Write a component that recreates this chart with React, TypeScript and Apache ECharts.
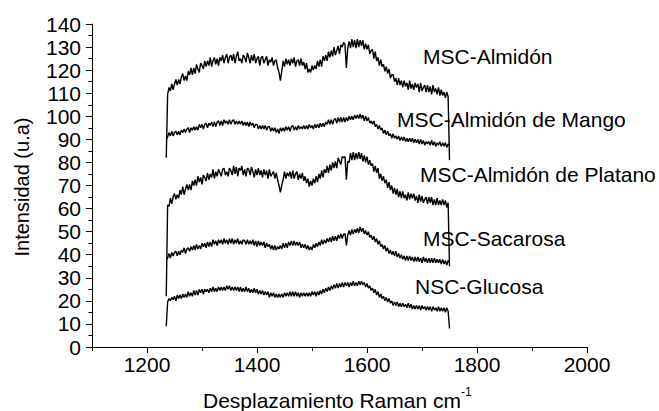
import React, { useEffect, useRef } from "react";
import * as echarts from "echarts";

// Raman shift sample positions (cm-1), one row = 25 cm-1
const ramanShift = [
  1235, 1237.5, 1240, 1242.5, 1245, 1247.5, 1250, 1252.5, 1255, 1257.5,
  1260, 1262.5, 1265, 1267.5, 1270, 1272.5, 1275, 1277.5, 1280, 1282.5,
  1285, 1287.5, 1290, 1292.5, 1295, 1297.5, 1300, 1302.5, 1305, 1307.5,
  1310, 1312.5, 1315, 1317.5, 1320, 1322.5, 1325, 1327.5, 1330, 1332.5,
  1335, 1337.5, 1340, 1342.5, 1345, 1347.5, 1350, 1352.5, 1355, 1357.5,
  1360, 1362.5, 1365, 1367.5, 1370, 1372.5, 1375, 1377.5, 1380, 1382.5,
  1385, 1387.5, 1390, 1392.5, 1395, 1397.5, 1400, 1402.5, 1405, 1407.5,
  1410, 1412.5, 1415, 1417.5, 1420, 1422.5, 1425, 1427.5, 1430, 1432.5,
  1435, 1437.5, 1440, 1442.5, 1445, 1447.5, 1450, 1452.5, 1455, 1457.5,
  1460, 1462.5, 1465, 1467.5, 1470, 1472.5, 1475, 1477.5, 1480, 1482.5,
  1485, 1487.5, 1490, 1492.5, 1495, 1497.5, 1500, 1502.5, 1505, 1507.5,
  1510, 1512.5, 1515, 1517.5, 1520, 1522.5, 1525, 1527.5, 1530, 1532.5,
  1535, 1537.5, 1540, 1542.5, 1545, 1547.5, 1550, 1552.5, 1555, 1557.5,
  1560, 1562.5, 1565, 1567.5, 1570, 1572.5, 1575, 1577.5, 1580, 1582.5,
  1585, 1587.5, 1590, 1592.5, 1595, 1597.5, 1600, 1602.5, 1605, 1607.5,
  1610, 1612.5, 1615, 1617.5, 1620, 1622.5, 1625, 1627.5, 1630, 1632.5,
  1635, 1637.5, 1640, 1642.5, 1645, 1647.5, 1650, 1652.5, 1655, 1657.5,
  1660, 1662.5, 1665, 1667.5, 1670, 1672.5, 1675, 1677.5, 1680, 1682.5,
  1685, 1687.5, 1690, 1692.5, 1695, 1697.5, 1700, 1702.5, 1705, 1707.5,
  1710, 1712.5, 1715, 1717.5, 1720, 1722.5, 1725, 1727.5, 1730, 1732.5,
  1735, 1737.5, 1740, 1742.5, 1745, 1747.5, 1750,
];

const almidon = [
  82, 109.5, 112.5, 111, 114, 111.5, 114, 116, 113.5, 116,
  114, 117, 118.5, 115.5, 117.5, 115.5, 119.5, 118, 121, 118,
  121, 118.5, 122.5, 120.5, 119, 123, 122, 120.5, 124, 121.5,
  124, 122, 125.5, 121.5, 124, 125.5, 122.5, 125, 122, 125.5,
  124, 126.5, 123, 125.5, 127, 123, 125.5, 126.5, 124, 127,
  123, 126, 128, 124, 125, 123, 126.5, 125.5, 123.5, 127.5,
  125.5, 123, 126.5, 124, 127, 123, 125, 126, 122, 125.5,
  126, 123, 124.5, 126, 122, 124.5, 123.5, 125.5, 122, 124,
  124.5, 121, 119, 115.5, 119.5, 124, 121.5, 125, 122.5, 124.5,
  122, 125, 123, 125.5, 121.5, 124, 124.5, 122, 125, 122,
  123.5, 120.5, 123, 119, 120.5, 119, 122, 120, 122, 120.5,
  124, 121.5, 124.5, 121.5, 126, 124, 126.5, 124, 128, 125.5,
  128.5, 126, 130, 126.5, 128.5, 130.5, 127, 131, 130, 132,
  131, 121, 129.5, 132.5, 129.5, 133.5, 130, 133, 129.5, 133.5,
  130, 133, 130.5, 133, 129, 131.5, 129, 131, 127, 128.5,
  129, 125, 128, 124, 125.5, 122, 124.5, 121.5, 122.5, 119.5,
  121.5, 118.5, 120.5, 116.5, 118, 118, 115, 116.5, 113.5, 116.5,
  113.5, 115.5, 112.5, 115.5, 113, 114.5, 111.5, 115.5, 112, 114,
  111.5, 114.5, 112.5, 114, 110.5, 114.5, 111, 112.5, 113.5, 110.5,
  113.5, 110.5, 113, 109.5, 113.5, 110.5, 112, 109.5, 112.5, 109,
  111.5, 109, 110.5, 108, 110.5, 108.5, 81,
];

const mango = [
  90, 91, 93, 91.5, 93.5, 91.5, 93, 93.5, 92, 93.5,
  92, 94, 93, 94.5, 93, 94.5, 95, 93, 95, 94,
  95.5, 94, 95.5, 94, 96.5, 95, 96.5, 94.5, 96.5, 97,
  95, 97, 96, 97.5, 95.5, 97.5, 95.5, 97.5, 98, 96,
  98, 96, 98.5, 97, 98, 96.5, 98.5, 96.5, 98, 98.5,
  96.5, 98, 96.5, 98, 96.5, 98, 96, 97.5, 96, 97.5,
  95.5, 97.5, 96, 97, 95, 96.5, 96.5, 94.5, 96, 94.5,
  96, 94.5, 96, 94, 95.5, 95.5, 93.5, 95, 93.5, 95,
  93, 94.5, 92.5, 95, 93.5, 95, 93.5, 95.5, 94, 95.5,
  93.5, 95.5, 96, 94, 95.5, 94, 96, 94.5, 95.5, 94.5,
  96, 94.5, 96, 94.5, 96.5, 95, 96, 94.5, 96.5, 95,
  96.5, 95, 97, 95.5, 97, 95.5, 97.5, 96.5, 98.5, 96.5,
  98.5, 96.5, 98.5, 99, 97, 99.5, 97.5, 99.5, 97.5, 99.5,
  97.5, 99.5, 98, 100, 98.5, 100, 98.5, 100.5, 99, 100.5,
  99, 101, 99, 100.5, 98, 100, 98, 99.5, 97, 98,
  96.5, 98, 95.5, 96.5, 94.5, 96, 94, 95, 92.5, 94,
  92, 93.5, 91.5, 92.5, 90.5, 92.5, 90.5, 91.5, 90, 91.5,
  89.5, 91, 89.5, 91, 89, 90.5, 89, 90.5, 89, 90.5,
  88.5, 90, 88.5, 90, 88, 90, 88, 89.5, 87.5, 89,
  88, 89, 87.5, 89.5, 87.5, 89, 87, 88.5, 87.5, 89,
  87, 88.5, 87, 88.5, 86.5, 88, 87.5,
];

const platano = [
  22, 61.5, 61, 64.5, 62, 65, 66.5, 64, 66, 64.5,
  68, 66, 69.5, 66, 68.5, 70.5, 68, 70.5, 68, 72,
  70, 72.5, 70, 74, 71.5, 73.5, 70.5, 74.5, 73.5, 72,
  75.5, 72.5, 75, 73.5, 77, 73, 76, 74, 77, 75.5,
  74, 77, 77.5, 74.5, 76, 74, 77.5, 76.5, 74.5, 78.5,
  75, 78, 74, 77.5, 76.5, 78.5, 74.5, 77, 74, 77.5,
  77, 74.5, 78, 76, 73.5, 77, 74.5, 77.5, 74.5, 76.5,
  73.5, 77, 74.5, 76.5, 73, 77, 74, 75, 76, 73,
  75.5, 72.5, 70, 67, 70, 72.5, 76, 73, 75.5, 74,
  76, 73, 76.5, 73, 75, 76, 72.5, 75, 73, 75.5,
  72, 74, 71, 73, 69.5, 72, 70, 73, 71, 74,
  71.5, 75, 73, 76.5, 73.5, 77, 75.5, 78.5, 75.5, 79,
  76.5, 80, 77.5, 80.5, 77.5, 82, 80.5, 79, 82.5, 82,
  82.5, 72.5, 80.5, 80, 84, 81, 84.5, 81, 84, 81.5,
  84.5, 81.5, 84, 80.5, 83, 80, 82.5, 79, 81, 78.5,
  79.5, 76, 78.5, 75.5, 77.5, 73, 75, 72, 74, 71,
  72.5, 69, 71.5, 68, 70, 66.5, 69, 66, 68.5, 65,
  67.5, 64.5, 67.5, 64.5, 66, 63.5, 67, 64, 66.5, 64.5,
  66.5, 63.5, 65.5, 62.5, 66, 63, 65.5, 62.5, 64, 65,
  62, 65, 62.5, 65, 61.5, 64, 61.5, 64.5, 61.5, 63.5,
  61.5, 64, 61.5, 63.5, 60.5, 62.5, 35,
];

const sacarosa = [
  38, 38.5, 40.5, 38.5, 41, 39.5, 41, 41.5, 39.5, 41.5,
  40, 42, 41, 43, 40.5, 42.5, 43, 41.5, 43.5, 42,
  44, 42, 44.5, 42.5, 44, 42.5, 45, 43.5, 45, 43,
  45.5, 43.5, 45.5, 43.5, 46.5, 44.5, 46, 44, 46.5, 45,
  46.5, 44.5, 47, 45, 46.5, 44.5, 47, 45, 47, 44.5,
  46.5, 45, 47, 44.5, 46, 44.5, 46.5, 46, 44.5, 46.5,
  44.5, 46, 44.5, 46.5, 44, 46, 43.5, 46, 44, 45.5,
  44, 45.5, 43, 45, 43.5, 44.5, 42.5, 44, 42, 44,
  42, 43.5, 42.5, 44, 42.5, 45, 43, 45, 43, 45.5,
  44, 46, 44, 46, 44, 45.5, 44, 45.5, 43, 44.5,
  43, 44.5, 42.5, 44, 42, 43.5, 42, 44.5, 43, 45,
  43.5, 45.5, 44, 46.5, 44.5, 46.5, 45, 47, 45.5, 47.5,
  45.5, 48, 46, 48, 46, 48.5, 47, 49, 47, 49,
  49, 44, 48.5, 50.5, 48.5, 51, 49, 51, 49.5, 51.5,
  49.5, 52, 50, 51.5, 49, 50.5, 48.5, 50, 47.5, 48.5,
  46.5, 48, 45.5, 47, 44.5, 46, 43.5, 44.5, 42.5, 44,
  41.5, 43, 40.5, 42, 40, 41.5, 39.5, 41.5, 39, 40.5,
  38.5, 40, 38, 39.5, 37.5, 39.5, 37.5, 39.5, 37.5, 39,
  37, 39, 37, 39, 37, 38.5, 36.5, 39, 37, 38.5,
  36.5, 38.5, 36.5, 38.5, 36.5, 38.5, 36.5, 38, 36.5, 38,
  36, 38, 36, 37.5, 35.5, 37.5, 36.5,
];

const glucosa = [
  9, 19.5, 21, 20, 21.5, 20.5, 22, 20, 22.5, 21,
  22.5, 21, 23, 21.5, 23, 21.5, 24, 22, 23.5, 22,
  24.5, 22.5, 24.5, 22.5, 25, 23.5, 25, 23, 25, 24,
  25, 23.5, 25.5, 24, 26, 24, 25.5, 24, 26, 24.5,
  26, 24.5, 26, 24.5, 26.5, 25, 26.5, 24.5, 26, 24.5,
  26, 24.5, 26, 24, 26, 24, 25.5, 24, 26, 24,
  25.5, 23.5, 25, 23.5, 25.5, 23.5, 25, 23, 24.5, 23,
  24.5, 22.5, 24, 22.5, 24, 21.5, 23.5, 22, 23.5, 21.5,
  23, 21.5, 23, 21.5, 23, 21.5, 23.5, 22, 23.5, 22,
  24, 22, 24, 22, 24, 22, 23.5, 21.5, 23.5, 22,
  23.5, 22, 23.5, 22, 23.5, 22, 24, 22.5, 24, 22,
  24, 22.5, 24.5, 23, 25, 23.5, 25.5, 24, 26, 24.5,
  26.5, 25, 27, 25.5, 27.5, 25.5, 27.5, 26, 28, 26,
  28, 26.5, 28, 26, 28, 26.5, 28.5, 26.5, 28, 26.5,
  28.5, 27, 28.5, 27, 28, 26, 27.5, 25.5, 26.5, 24.5,
  25.5, 23.5, 25, 22.5, 24, 21.5, 23, 21, 22, 20,
  21.5, 19.5, 21, 19, 20, 18, 19.5, 18, 19.5, 17.5,
  19, 17.5, 19, 17.5, 18.5, 17, 19, 17, 18.5, 16.5,
  18, 16.5, 18, 16.5, 18, 16, 18, 16.5, 17.5, 16,
  17.5, 16, 17.5, 15.5, 17.5, 16, 17, 15.5, 17.5, 15.5,
  17, 15.5, 17, 15, 17, 15.5, 8,
];

const seriesNames = [
  "MSC-Almidón",
  "MSC-Almidón de Mango",
  "MSC-Almidón de Platano",
  "MSC-Sacarosa",
  "NSC-Glucosa",
];
const seriesValues = [almidon, mango, platano, sacarosa, glucosa];

const xMajorTicks = [1200, 1400, 1600, 1800, 2000];
const xMinorTicks = [1100, 1300, 1500, 1700, 1900];

const FONT = "'Liberation Sans', Arial, Helvetica, sans-serif";

export default function App() {
  const ref = useRef<HTMLDivElement>(null);

  useEffect(() => {
    if (!ref.current) return;
    const chart = echarts.init(ref.current, undefined, { renderer: "svg" });

    const labelPos: [number, number][] = [
      [423, 56],
      [397, 119],
      [420, 174],
      [423, 238],
      [415, 286],
    ];

    const option: any = {
      animation: false,
      backgroundColor: "#ffffff",
      grid: { left: 92, right: 72, top: 24, bottom: 64 },
      xAxis: [
        {
          type: "value",
          min: 1100,
          max: 2000,
          position: "bottom",
          axisLine: { show: true, lineStyle: { color: "#000", width: 1 } },
          axisTick: {
            show: true,
            customValues: xMajorTicks,
            length: 6,
            lineStyle: { color: "#000", width: 1 },
          },
          axisLabel: {
            customValues: xMajorTicks,
            formatter: (v: number) => String(v),
            color: "#000",
            fontSize: 21,
            fontFamily: FONT,
            margin: 7,
          },
          splitLine: { show: false },
        },
        {
          type: "value",
          min: 1100,
          max: 2000,
          position: "bottom",
          axisLine: { show: false },
          axisTick: {
            show: true,
            customValues: xMinorTicks,
            length: 4,
            lineStyle: { color: "#000", width: 1 },
          },
          axisLabel: { show: false },
          splitLine: { show: false },
        },
      ],
      yAxis: {
        type: "value",
        min: 0,
        max: 140,
        interval: 10,
        axisLine: { show: true, lineStyle: { color: "#000", width: 1 } },
        axisTick: { show: true, length: 6, lineStyle: { color: "#000", width: 1 } },
        minorTick: { show: true, splitNumber: 2, length: 3.5, lineStyle: { color: "#000", width: 1 } },
        axisLabel: { color: "#000", fontSize: 21, fontFamily: FONT, margin: 11 },
        splitLine: { show: false },
        minorSplitLine: { show: false },
      },
      series: seriesValues.map((vals, i) => ({
        name: seriesNames[i],
        type: "line",
        xAxisIndex: 0,
        showSymbol: false,
        symbol: "none",
        silent: true,
        lineStyle: { color: "#000", width: 1.4 },
        data: ramanShift.map((x, j) => [x, vals[j]]),
      })),
      graphic: [
        ...seriesNames.map((name, i) => ({
          type: "text",
          x: labelPos[i][0],
          y: labelPos[i][1],
          style: {
            text: name,
            fontSize: 21,
            fontFamily: FONT,
            fill: "#000",
            align: "left",
            verticalAlign: "middle",
          },
        })),
        {
          type: "text",
          x: 203,
          y: 400,
          style: {
            text: "Desplazamiento Raman cm",
            fontSize: 21,
            fontFamily: FONT,
            fill: "#000",
            align: "left",
            verticalAlign: "middle",
          },
        },
        {
          type: "text",
          x: 461,
          y: 392,
          style: {
            text: "-1",
            fontSize: 12,
            fontFamily: FONT,
            fill: "#000",
            align: "left",
            verticalAlign: "middle",
          },
        },
        {
          type: "text",
          x: 22,
          y: 187,
          rotation: Math.PI / 2,
          style: {
            text: "Intensidad (u.a)",
            fontSize: 20,
            fontFamily: FONT,
            fill: "#000",
            align: "center",
            verticalAlign: "middle",
          },
        },
      ],
    };

    chart.setOption(option);
    return () => chart.dispose();
  }, []);

  return (
    <div
      ref={ref}
      style={{ position: "fixed", left: 0, top: 0, width: 659, height: 411, background: "#fff" }}
    />
  );
}
